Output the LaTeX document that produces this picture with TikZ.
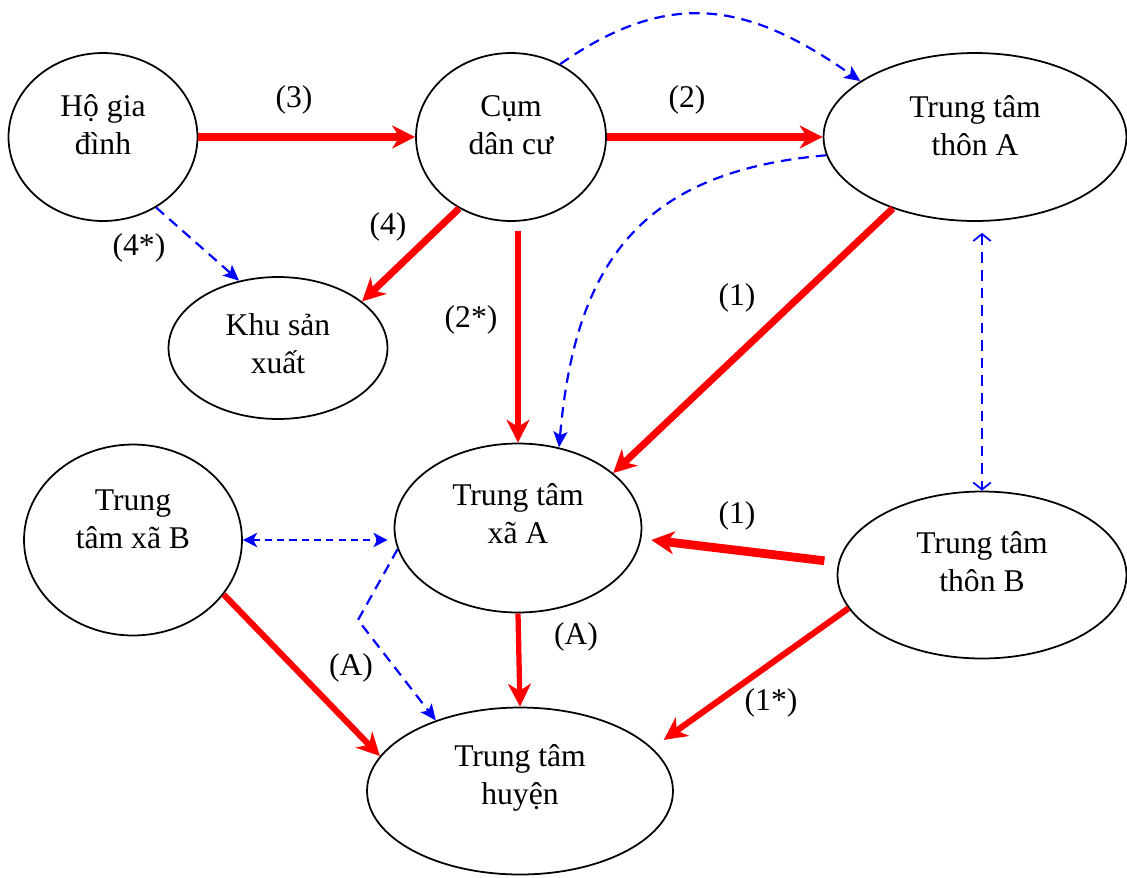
\documentclass[tikz,border=0pt]{standalone}
\usepackage{fontspec}
\setmainfont{Liberation Serif}
\usetikzlibrary{arrows.meta,shapes.geometric}
\tikzset{
  place/.style={ellipse,draw,line width=1pt,inner sep=0pt},
  txt/.style={align=center,font=\fontsize{18}{21.5}\selectfont,inner sep=0pt},
  lab/.style={font=\fontsize{18}{21.5}\selectfont,inner sep=1pt},
  road/.style={draw=red,line width=4pt,-{Stealth[length=13pt,width=13pt,inset=4pt]}},
  link/.style={draw=blue,line width=1.25pt,dash pattern=on 6pt off 4pt,-{Stealth[length=9pt,width=8pt,inset=2pt]}}
}
\begin{document}
\begin{tikzpicture}[x=0.02cm,y=-0.02cm]
\useasboundingbox (0,0) rectangle (1127,877);
\node (ho) at (103,137)[place,minimum width=3.78cm,minimum height=3.36cm,label={[txt,name=ho-t,yshift=0.24cm]center:Hộ gia\\đình}] {};
\node (cum) at (511,137)[place,minimum width=3.8cm,minimum height=3.36cm,label={[txt,name=cum-t,yshift=0.24cm]center:Cụm\\dân cư}] {};
\node (thonA) at (975,137)[place,minimum width=6.06cm,minimum height=3.36cm,label={[txt,name=thonA-t,yshift=0.22cm]center:Trung tâm\\thôn A}] {};
\node (khu) at (278,348)[place,minimum width=4.38cm,minimum height=2.84cm,label={[txt,name=khu-t,yshift=0.08cm]center:Khu sản\\xuất}] {};
\node (xaA) at (518,528)[place,minimum width=4.94cm,minimum height=3.38cm,label={[txt,name=xaA-t,yshift=0.28cm]center:Trung tâm\\xã A}] {};
\node (xaB) at (133,540)[place,minimum width=4.36cm,minimum height=3.82cm,label={[txt,name=xaB-t,yshift=0.42cm]center:Trung\\tâm xã B}] {};
\node (thonB) at (982,575)[place,minimum width=5.78cm,minimum height=3.34cm,label={[txt,name=thonB-t,yshift=0.26cm]center:Trung tâm\\thôn B}] {};
\node (huyen) at (520,791)[place,minimum width=6.12cm,minimum height=3.34cm,label={[txt,name=huyen-t,yshift=0.26cm]center:Trung tâm\\huyện}] {};

\draw[road] (ho.east) -- (cum.west);
\draw[road] (cum.east) -- (thonA.west);
\draw[road] (cum.234) -- (khu.29);
\draw[road,line width=3pt,shorten <=0.18cm] (cum.south -| xaA.north) -- (xaA.north);
\draw[road] (thonA.221) -- (xaA.30);
\draw[road,line width=5pt,shorten <=0.28cm,shorten >=0.2cm] (thonB.175) -- (xaA.-5);
\draw[road,line width=3pt] (xaA.south) -- (huyen.north);
\draw[road,line width=3.5pt] (xaB.-31) -- (huyen.166);
\draw[road,line width=3.5pt,shorten >=0.28cm] (thonB.194) -- (huyen.18);

\draw[link] (ho.-53) -- (khu.120);
\draw[link] (cum.56) to[out=35,in=145,looseness=1.15] (thonA.154);
\draw[link] (thonA.187) to[out=185,in=85,looseness=1.2] (xaA.63);
\coordinate (kink) at (358,620);
\draw[link] (xaA.190) -- (kink) -- (huyen.140);
\draw[link,line width=1pt,dash pattern=on 6pt off 4pt,{Straight Barb[length=4pt,width=10pt]}-{Straight Barb[length=4pt,width=10pt]},shorten <=0.22cm] (thonA.south -| thonB.north) -- (thonB.north);
\draw[link,line width=1.6pt,dash pattern=on 4pt off 3pt,{Stealth[length=8pt,width=8pt,inset=2pt]}-{Stealth[length=8pt,width=8pt,inset=2pt]},shorten >=0.12cm] (xaB.east) -- (xaB.east -| xaA.west);

\node[lab] (l3) at (294,100) {(3)};
\node[lab] (l2) at (687,100) {(2)};
\node[lab] (l4) at (388,227) {(4)};
\node[lab] (l4s) at (139,248) {(4*)};
\node[lab] (l2s) at (471,320) {(2*)};
\node[lab] (l1a) at (737,298) {(1)};
\node[lab] (l1b) at (737,516) {(1)};
\node[lab] (lAa) at (576,637) {(A)};
\node[lab] (lAb) at (351,668) {(A)};
\node[lab] (l1s) at (771,703) {(1*)};
\end{tikzpicture}
\end{document}
